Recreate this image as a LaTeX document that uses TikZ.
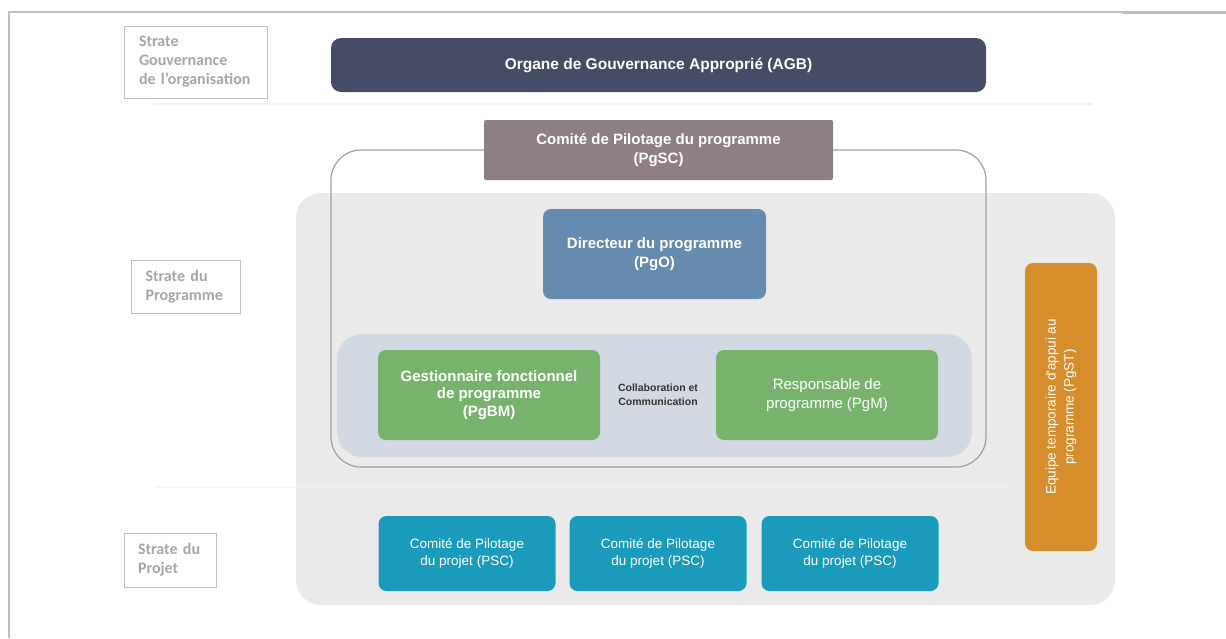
\documentclass[tikz,border=0pt]{standalone}
\usepackage{fontspec}
\setmainfont{Liberation Sans}
\newfontfamily\stratefont{Carlito}
\usepackage{xcolor}
\usepackage{tikz}
\usetikzlibrary{positioning}
\definecolor{agbblue}{HTML}{474C66}
\definecolor{pgscmauve}{HTML}{8E7F86}
\definecolor{pgoblue}{HTML}{658BAF}
\definecolor{pggreen}{HTML}{77B36D}
\definecolor{pscteal}{HTML}{1A9BBB}
\definecolor{pgstorange}{HTML}{D68E2C}
\definecolor{panelgrey}{HTML}{EBEAEB}
\definecolor{bandblue}{HTML}{D3D9E3}
\definecolor{stratetext}{HTML}{A6A6A6}
\definecolor{framegrey}{HTML}{BFBFBF}
\tikzstyle{strate}  = [rectangle, draw=framegrey, text=stratetext, inner xsep=0pt,
                       align=left, font=\stratefont\bfseries\fontsize{16}{19}\selectfont]
\tikzstyle{box}     = [rectangle, text=white, align=center, inner sep=0pt,
                       rounded corners=8pt]
\tikzstyle{boldbox} = [box, font=\bfseries\fontsize{15}{19}\selectfont]
\tikzstyle{greenbox}= [box, fill=pggreen, minimum width=222pt, minimum height=90pt]
\tikzstyle{pscbox}  = [box, fill=pscteal, minimum width=177pt, minimum height=75pt,
                       font=\fontsize{13.5}{16.5}\selectfont]
\tikzstyle{sepline} = [line width=2.5pt, draw=gray!18, dash pattern=on 1pt off 0.6pt]

\begin{document}
\begin{tikzpicture}[x=1pt, y=-1pt]
  \useasboundingbox (0,0) rectangle (1226,638);

  % frame and strata separators
  \draw[framegrey, line width=1.5pt] (9,638) -- (9,12) -- (1226,12);
  \draw[framegrey, line width=2.5pt] (1122,12.5) -- (1226,12.5);
  \draw[sepline] (155,104) -- (1092,104);

  % strata labels
  \node[strate, minimum width=143pt, minimum height=72pt, text width=113pt]
    (sgov) at (195.5,62) {Strate\\Gouvernance\\de l’organisation};
  \node[strate, minimum width=109pt, minimum height=53pt, text width=80pt]
    (sprog) at (185.5,286.5) {Strate du\\Programme};
  \node[strate, minimum width=92pt, minimum height=54pt, text width=64pt]
    (sproj) at (170,560) {Strate du\\Projet};

  % governance layer
  \node[boldbox, fill=agbblue, minimum width=655pt, minimum height=54pt, rounded corners=10pt,
        font=\bfseries\fontsize{15.5}{19}\selectfont]
    (agb) at (658.5,65) {Organe de Gouvernance Approprié (AGB)};

  % programme layer
  \fill[panelgrey, rounded corners=25pt] (296,193) rectangle (1115,605);
  \draw[sepline, draw=gray!12] (155,487) -- (1008,487);
  \draw[gray!75, line width=1.2pt, rounded corners=30pt] (331,150) rectangle (986,467);
  \node[boldbox, fill=pgscmauve, minimum width=349pt, minimum height=60pt, rounded corners=2pt]
    (pgsc) at (658.5,150) {Comité de Pilotage du programme\\(PgSC)};
  \node[boldbox, fill=pgoblue, minimum width=223pt, minimum height=90pt]
    (pgo) at (654.5,254) {Directeur du programme\\(PgO)};
  \fill[bandblue, rounded corners=25pt] (337,334) rectangle (972,457);
  \node[greenbox, font=\bfseries\fontsize{15}{17.5}\selectfont]
    (pgbm) at (489,395) {Gestionnaire fonctionnel\\de programme\\(PgBM)};
  \node[greenbox, font=\fontsize{15}{19}\selectfont]
    (pgm) at (827,395) {Responsable de\\programme (PgM)};
  \node[align=center, text=black!80, font=\bfseries\fontsize{10.5}{14}\selectfont]
    (collab) at (658,395) {Collaboration et\\Communication};
  \node[box, fill=pgstorange, rotate=90, minimum width=288pt, minimum height=72pt,
        font=\fontsize{13.5}{18}\selectfont]
    (pgst) at (1061,407) {Equipe temporaire d\textquotesingle appui au\\programme (PgST)};

  % project layer
  \node[pscbox] (psc1) at (467,553.5) {Comité de Pilotage\\du projet (PSC)};
  \node[pscbox] (psc2) at (658,553.5) {Comité de Pilotage\\du projet (PSC)};
  \node[pscbox] (psc3) at (850,553.5) {Comité de Pilotage\\du projet (PSC)};
\end{tikzpicture}
\end{document}
